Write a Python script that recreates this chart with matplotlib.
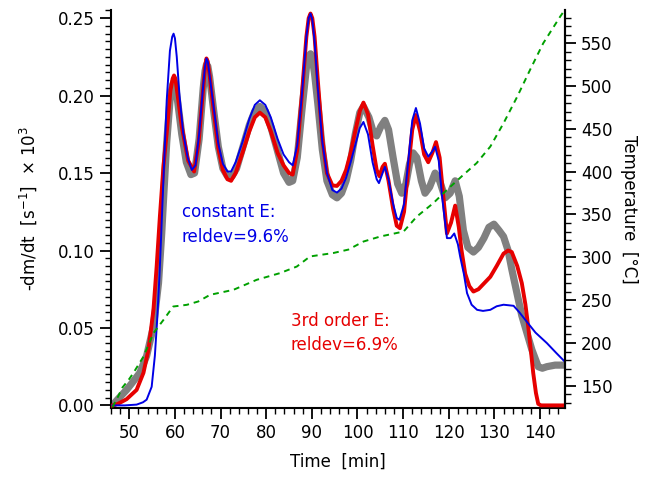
import matplotlib
matplotlib.use("Agg")
import matplotlib.pyplot as plt
from matplotlib.ticker import MultipleLocator

# === DATA ===
# measured mass loss rate (grey)
t_exp = [46.3, 47.5, 49.4, 51.0, 52.3, 53.8, 55.3, 56.4, 57.1, 57.5, 58.2, 59.0,
         59.5, 59.8, 60.1, 60.6, 61.5, 62.5, 63.5, 64.3, 65.3, 66.2, 66.6, 66.9,
         67.2, 67.6, 68.5, 69.5,
         70.5, 71.5, 72.5, 73.5, 74.8, 76.3, 77.5, 78.6, 79.8, 81.0, 82.5, 83.8,
         85.0, 85.8, 86.8, 87.8, 88.8, 89.3, 89.7, 90.1, 90.6, 91.3, 92.3, 93.3, 94.5, 95.5,
         96.5, 97.5, 98.5, 99.5, 100.5, 101.3, 102.5, 103.5, 104.2, 105.1, 106.0,
         106.8, 107.8, 108.8, 109.7, 110.6, 111.4, 112.2, 113.0, 114.0, 114.8,
         115.8, 117.0, 118.0, 119.2, 120.3, 121.4, 122.3, 123.2, 124.2, 125.4,
         126.5, 127.7, 128.8, 129.9, 131.0, 132.0, 133.0, 133.8, 134.9, 136.0,
         136.9, 138.2, 139.6, 140.5, 141.5, 143.3, 145.5]
r_exp = [0.000, 0.004, 0.010, 0.016, 0.021, 0.032, 0.051, 0.079, 0.111, 0.133, 0.170, 0.200,
         0.207, 0.209, 0.207, 0.196, 0.175, 0.157, 0.149, 0.150, 0.172, 0.205, 0.216, 0.220,
         0.219, 0.212, 0.190, 0.167,
         0.153, 0.148, 0.148, 0.153, 0.166, 0.181, 0.190, 0.193, 0.190, 0.180, 0.164, 0.150,
         0.144, 0.145, 0.160, 0.190, 0.218, 0.225, 0.227, 0.224, 0.214, 0.195, 0.165, 0.145, 0.136, 0.134,
         0.137, 0.145, 0.158, 0.175, 0.189, 0.193, 0.186, 0.176, 0.174, 0.180, 0.184,
         0.178, 0.160, 0.143, 0.137, 0.143, 0.156, 0.163, 0.160, 0.145, 0.137,
         0.141, 0.150, 0.145, 0.134, 0.137, 0.145, 0.135, 0.113, 0.102, 0.099,
         0.102, 0.108, 0.115, 0.117, 0.113, 0.109, 0.100, 0.088, 0.073, 0.058,
         0.049, 0.036, 0.025, 0.024, 0.025, 0.026, 0.026]

# fit with 3rd order E (red)
t_3rd = [46.3, 47.5, 49.4, 51.6, 53.1, 54.2, 55.3, 56.0, 56.7, 57.5, 58.2, 59.0,
         59.5, 59.8, 60.1, 60.6, 61.5, 62.9, 64.2, 65.2, 66.2, 66.6, 66.9, 67.2,
         67.6, 68.5, 69.5, 70.5,
         71.5, 72.3, 73.3, 74.8, 76.3, 77.5, 78.6, 79.8, 81.0, 82.5, 83.8, 85.0,
         85.8, 86.8, 87.8, 88.8, 89.3, 89.7, 90.1, 90.6, 91.3, 92.3, 93.3, 94.5, 95.5, 96.5,
         97.5, 98.5, 99.5, 100.5, 101.3, 102.3, 103.3, 104.2, 104.8, 105.5, 106.0,
         106.8, 107.8, 108.6, 109.3, 110.2, 111.2, 112.0, 112.8, 113.7, 114.6,
         115.5, 116.4, 117.2, 118.0, 118.8, 119.6, 120.5, 121.4, 122.2, 122.8,
         123.6, 124.5, 125.4, 126.5, 127.8, 129.1, 130.5, 132.0, 133.0, 133.8,
         135.0, 136.0, 136.8, 137.4, 138.0, 138.5, 139.1, 139.6, 140.2, 145.5]
r_3rd = [0.000, 0.001, 0.004, 0.010, 0.021, 0.036, 0.062, 0.090, 0.122, 0.155, 0.176, 0.203,
         0.211, 0.213, 0.211, 0.200, 0.180, 0.158, 0.151, 0.170, 0.205, 0.219, 0.224, 0.222,
         0.213, 0.190, 0.166, 0.152,
         0.146, 0.145, 0.150, 0.163, 0.177, 0.186, 0.189, 0.186, 0.177, 0.163, 0.155, 0.150,
         0.149, 0.165, 0.200, 0.238, 0.250, 0.253, 0.250, 0.238, 0.210, 0.172, 0.150, 0.142, 0.1417, 0.145,
         0.152, 0.163, 0.177, 0.190, 0.1955, 0.188, 0.168, 0.152, 0.148, 0.154, 0.156,
         0.145, 0.127, 0.116, 0.1144, 0.125, 0.155, 0.178, 0.1875, 0.177, 0.162,
         0.157, 0.163, 0.170, 0.160, 0.135, 0.111, 0.118, 0.129, 0.115, 0.100,
         0.085, 0.077, 0.0735, 0.075, 0.079, 0.083, 0.090, 0.098, 0.100, 0.099,
         0.090, 0.079, 0.065, 0.051, 0.035, 0.021, 0.008, 0.001, 0.000, 0.000]

# fit with constant E (blue)
t_const = [46.3, 49.0, 51.6, 53.0, 53.8, 54.9, 55.6, 56.1, 56.6, 57.0, 57.3, 58.2,
           58.9, 59.4, 59.7, 60.0, 60.4, 61.0, 61.8, 62.8, 63.7, 64.5, 65.3, 66.2, 66.6,
           66.9, 67.2, 67.6, 68.5, 69.5, 70.5, 71.5, 72.3, 73.3, 74.8, 76.3, 77.5, 78.6, 79.8,
           81.0, 82.5, 83.8, 85.0, 85.8, 86.8, 87.8, 88.8, 89.3, 89.7, 90.1, 90.6, 91.3, 92.3,
           93.3, 94.5, 95.5, 96.5, 97.5, 98.5, 99.5, 100.5, 101.3, 102.3, 103.3,
           104.2, 104.7, 105.5, 106.0, 106.8, 107.8, 108.6, 109.2, 110.2, 111.2,
           112.0, 112.8, 113.7, 114.6, 115.5, 116.4, 117.0, 117.8, 118.6, 119.6,
           120.4, 121.2, 122.0, 122.5, 123.3, 124.0, 125.0, 126.2, 127.5, 129.1,
           130.5, 132.0, 134.2, 135.5, 137.1, 139.0, 141.5, 143.5, 145.5]
r_const = [0.000, 0.000, 0.0005, 0.002, 0.0037, 0.012, 0.032, 0.055, 0.083, 0.111, 0.133, 0.197,
           0.229, 0.238, 0.240, 0.237, 0.225, 0.200, 0.176, 0.160, 0.152, 0.155, 0.175, 0.207, 0.219,
           0.224, 0.222, 0.213, 0.192, 0.169, 0.156, 0.151, 0.151, 0.157, 0.170, 0.185, 0.194, 0.197, 0.194,
           0.186, 0.172, 0.162, 0.157, 0.155, 0.168, 0.200, 0.238, 0.250, 0.253, 0.249, 0.235, 0.205, 0.170,
           0.150, 0.139, 0.1374, 0.140, 0.147, 0.157, 0.168, 0.179, 0.183, 0.175, 0.157,
           0.146, 0.1435, 0.150, 0.154, 0.146, 0.130, 0.121, 0.1198, 0.130, 0.160,
           0.184, 0.192, 0.182, 0.166, 0.1606, 0.164, 0.167, 0.158, 0.133, 0.108,
           0.108, 0.111, 0.104, 0.096, 0.085, 0.0725, 0.065, 0.0617, 0.061, 0.0617,
           0.064, 0.065, 0.0643, 0.060, 0.054, 0.047, 0.0402, 0.034, 0.028]

# furnace temperature (green, right axis)
t_temp = [46.3, 47.5, 48.5, 50.0, 50.9, 53.1, 55.3, 57.5, 59.6, 62.6, 65.1, 67.7,
          72.8, 77.9, 83.0, 86.7, 89.6, 94.7, 98.0, 101.3, 105.0, 110.1, 113.0,
          116.6, 119.6, 123.2, 126.1, 129.1, 132.0, 135.0, 137.8, 140.7, 144.4, 145.3]
temp = [125, 137, 148, 158, 165, 184, 211.5, 227, 242.5, 244.5, 248.4, 256.2,
        262, 273.7, 281.5, 289.2, 301, 305, 309, 318.4, 324.3, 330.1, 347.6,
        363.2, 378.8, 396.3, 410, 429.3, 456.6, 487.6, 518.8, 550, 581, 588]

# === PLOT ===
plt.rcParams['font.size'] = 12
fig = plt.figure(figsize=(6.61, 4.91), dpi=100)
ax = fig.add_axes([0.168, 0.169, 0.687, 0.811])
ax2 = ax.twinx()

ax.plot(t_exp, r_exp, color='#808080', lw=5.2, solid_capstyle='round',
        solid_joinstyle='round', zorder=2)
ax.plot(t_3rd, r_3rd, color='#e60000', lw=2.8, solid_joinstyle='round', zorder=3)
ax.plot(t_const, r_const, color='#0000e6', lw=1.4, solid_joinstyle='round', zorder=4)
ax2.plot(t_temp, temp, color='#00a000', lw=1.4, ls=(0, (3, 2.5)))

ax.text(61.5, 0.125, "constant E:", color='#0000e6', fontsize=12, va='center')
ax.text(61.5, 0.109, "reldev=9.6%", color='#0000e6', fontsize=12, va='center')
ax.text(85.4, 0.0546, "3rd order E:", color='#e60000', fontsize=12, va='center')
ax.text(85.4, 0.039, "reldev=6.9%", color='#e60000', fontsize=12, va='center')

ax.set_xlim(46.0, 145.5)
ax.set_ylim(-0.0017, 0.2554)
ax2.set_ylim(124, 589)

ax.xaxis.set_major_locator(MultipleLocator(10))
ax.xaxis.set_minor_locator(MultipleLocator(2))
ax.yaxis.set_major_locator(MultipleLocator(0.05))
ax.yaxis.set_minor_locator(MultipleLocator(0.005))
ax.yaxis.set_major_formatter(lambda v, p: f"{v:.2f}")
ax2.yaxis.set_major_locator(MultipleLocator(50))
ax2.yaxis.set_minor_locator(MultipleLocator(10))

for a in (ax, ax2):
    a.spines['top'].set_visible(False)
    a.tick_params(which='major', length=8, width=1.3, direction='out', labelsize=12)
    a.tick_params(which='minor', length=4, width=1.0, direction='out')
    for s in a.spines.values():
        s.set_linewidth(1.5)
ax2.spines['left'].set_visible(False)
ax2.spines['bottom'].set_visible(False)

ax.set_xlabel("Time  [min]", fontsize=12, labelpad=8)
ax.set_ylabel(r"-dm/dt  [s$^{-1}$]  × 10$^{3}$", fontsize=12, labelpad=14)
ax2.set_ylabel("Temperature  [°C]", fontsize=12, rotation=270, labelpad=18)

fig.savefig("out.png", dpi=100)
